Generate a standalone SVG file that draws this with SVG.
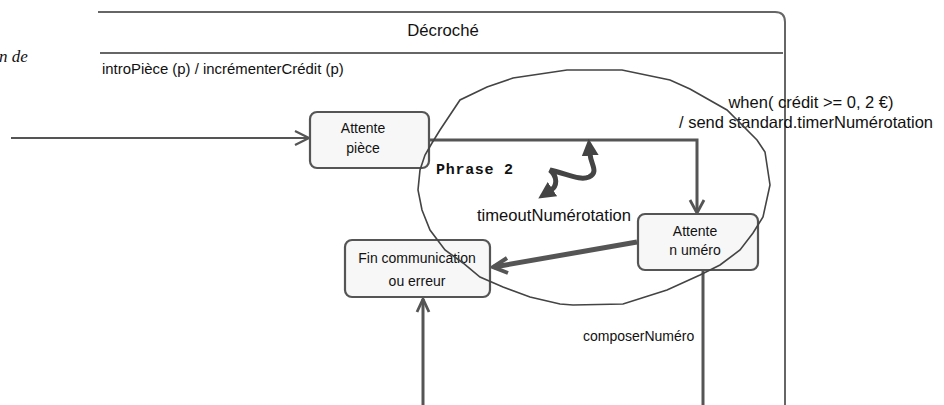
<svg xmlns="http://www.w3.org/2000/svg" width="944" height="405" viewBox="0 0 944 405">
<style>
text{font-family:"Liberation Sans",Arial,sans-serif;fill:#111}
.frame{fill:none;stroke:#666;stroke-width:2}
.node rect{fill:#f7f7f7;stroke:#555;stroke-width:2.2}
.node text{font-size:14px;text-anchor:middle}
.edge{fill:none;stroke:#555}
.chev{fill:none;stroke:#555;stroke-linejoin:miter}
</style>
<defs>
<marker id="tri" viewBox="0 0 10 10" refX="1" refY="5" markerWidth="3.4" markerHeight="3.6" orient="auto-start-reverse" markerUnits="strokeWidth">
<path d="M0,0 L10,5 L0,10 z" fill="#444"/>
</marker>
</defs>
<g id="frame">
<path class="frame" d="M98,12 H775 Q785,12 785,22 V405"/>
<line class="frame" x1="100" y1="53" x2="783" y2="53"/>
<text x="443" y="36" font-size="16.7" text-anchor="middle">Décroché</text>
<text x="102" y="74" font-size="14.9">introPièce (p) / incrémenterCrédit (p)</text>
<text x="-1" y="62" font-size="17" font-style="italic" style="font-family:'Liberation Serif','Times New Roman',serif">n de</text>
</g>
<g id="connectors">
<line class="edge" x1="11" y1="138" x2="308" y2="138" stroke-width="2"/>
<path class="chev" d="M295,131 L309,138 L295,145" stroke-width="2.2"/>
<polyline class="edge" points="429,140 697,140 697,212" stroke-width="3"/>
<path class="chev" d="M690,200 L697,213 L704,200" stroke-width="2.8"/>
<line class="edge" x1="637" y1="242" x2="494" y2="267" stroke-width="5"/>
<path class="chev" d="M507,258 L493,267 L508,273" stroke-width="4"/>
<line class="edge" x1="423" y1="405" x2="423" y2="299" stroke-width="3"/>
<path class="chev" d="M417,312 L423,299 L429,312" stroke-width="2.8"/>
<line class="edge" x1="703" y1="270" x2="703" y2="405" stroke-width="3"/>
<text x="811" y="108" font-size="16.5" text-anchor="middle">when( crédit &gt;= 0, 2 €)</text>
<text x="806" y="128" font-size="16.5" text-anchor="middle">/ send standard.timerNumérotation</text>
<text x="583" y="341" font-size="14">composerNuméro</text>
</g>
<g id="attente-piece" class="node">
<rect x="310" y="112" width="119" height="56" rx="7"/>
<text x="363" y="133">Attente</text>
<text x="363" y="153">pièce</text>
</g>
<g id="attente-numero" class="node">
<rect x="638" y="214" width="120" height="56" rx="7"/>
<text x="695" y="236">Attente</text>
<text x="695" y="255">n uméro</text>
</g>
<g id="fin-communication" class="node">
<rect x="345" y="240" width="145" height="57" rx="7"/>
<text x="417" y="263">Fin communication</text>
<text x="417" y="286">ou erreur</text>
</g>
<g id="region">
<path fill="none" stroke="#444" stroke-width="1.6" d="M567,70 L622,70 L670,80 L690,89 L727,110 L757,140 L765,152 L770,185 L763,217 L753,233 L740,250 L720,265 L700,275 L667,290 L623,304 L573,305 L560,304 L530,297 L503,287 L480,277 L463,263 L445,250 L430,230 L422,210 L418,190 L420,170 L425,155 L432,143 L440,130 L460,100 L487,87 L513,78 Z"/>
<text x="436" y="174" font-size="15" font-weight="bold" textLength="77" style="font-family:'Liberation Mono','Courier New',monospace">Phrase 2</text>
<text x="477" y="221" font-size="16.6">timeoutNumérotation</text>
<path fill="none" stroke="#444" stroke-width="5" stroke-linecap="round" marker-start="url(#tri)" marker-end="url(#tri)" d="M590,154 C591,165 599,172 589,177 C580,181 568,174 550,170 C558,177 557,186 551,190"/>
</g>
</svg>
